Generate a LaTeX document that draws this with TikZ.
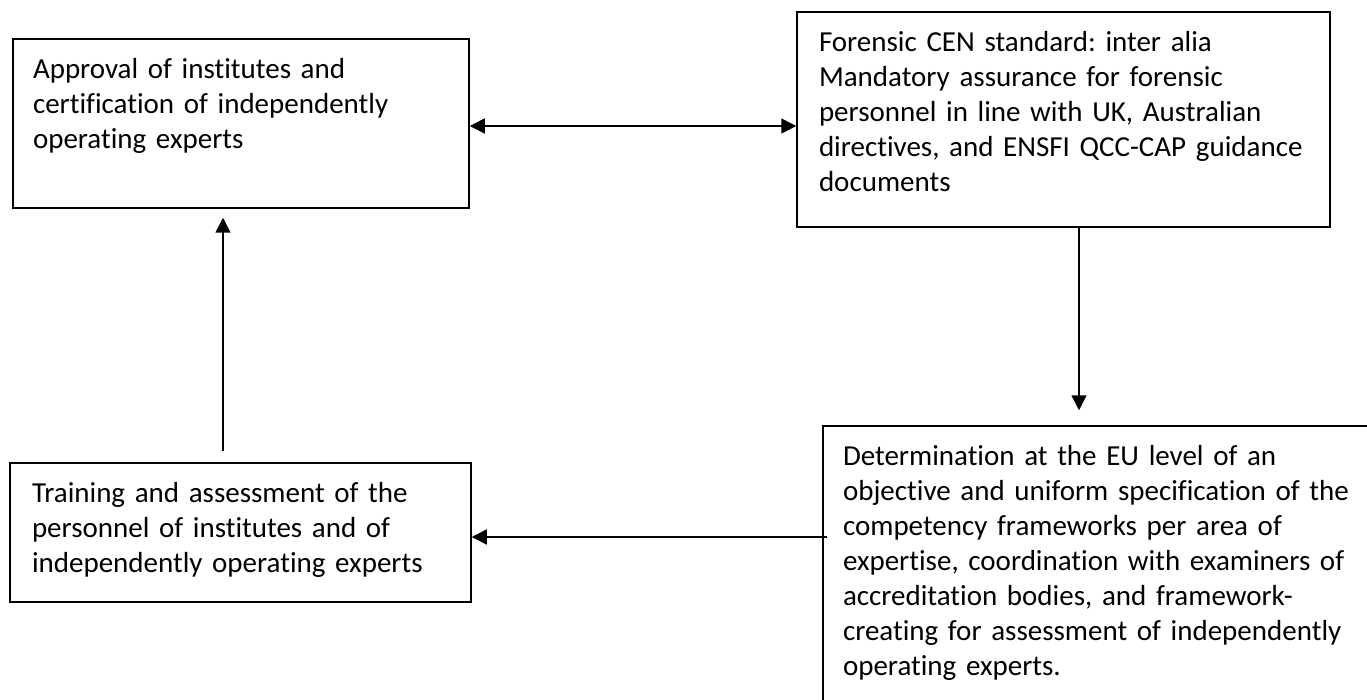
\documentclass[tikz,border=0pt]{standalone}
\usepackage{fontspec}
\setmainfont{Carlito}[Ligatures={NoCommon}]
\usetikzlibrary{arrows.meta}
\frenchspacing

\begin{document}
\begin{tikzpicture}[x=1pt,y=-1pt,line width=1.5pt,
    >={Triangle[length=15pt,width=15pt]},
    box/.style={draw,rectangle,inner sep=0pt},
    txt/.style={anchor=base west,text width=560pt,align=left,inner sep=0pt,
        font=\fontsize{29}{35}\selectfont}]
        \useasboundingbox (0,0) rectangle (1367,700);
        \clip (0,0) rectangle (1367,700);

        % boxes
        \node (approval) at (241,123.5) [box,minimum width=456pt,minimum height=169pt]{};
        \node (cen) at (1063.5,119.5) [box,minimum width=533pt,minimum height=215pt]{};
        \node (training) at (240.5,532.5) [box,minimum width=461pt,minimum height=139pt]{};
        \node (determination) at (1113,593) [box,minimum width=580pt,minimum height=334pt]{};

        % texts
        \node (approvaltxt) at ([xshift=20pt,yshift=-40pt]approval.north west) [txt]{Approval of institutes and\\
            certification of independently\\
            operating experts};
        \node (centxt) at ([xshift=22pt,yshift=-40pt]cen.north west) [txt]{Forensic CEN standard: inter alia\\
            Mandatory assurance for forensic\\
            personnel in line with UK, Australian\\
            directives, and ENSFI QCC-CAP guidance\\
            documents};
        \node (trainingtxt) at ([xshift=22pt,yshift=-40pt]training.north west) [txt]{Training and assessment of the\\
            personnel of institutes and of\\
            independently operating experts};
        \node (determinationtxt) at ([xshift=20pt,yshift=-40pt]determination.north west) [txt]{Determination at the EU level of an\\
            objective and uniform specification of the\\
            competency frameworks per area of\\
            expertise, coordination with examiners of\\
            accreditation bodies, and framework-\\
            creating for assessment of independently\\
            operating experts.};

        % links
        \draw [<->](approval.east |- 0,126) -- (cen.west |- 0,126);
        \draw [->,shorten >=15pt](cen.south -| 1079,0) -- (determination.north -| 1079,0);
        \draw [->,shorten <=-5pt](determination.west |- 0,537) -- (training.east |- 0,537);
        \draw [->,shorten <=11pt,shorten >=9pt](training.north -| 223,0) -- (approval.south -| 223,0);

    \end{tikzpicture}
\end{document}
